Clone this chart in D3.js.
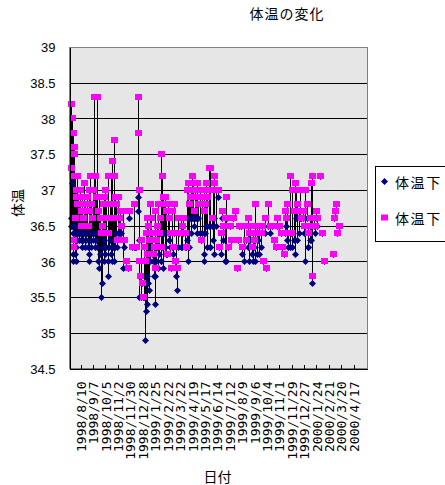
<!DOCTYPE html>
<html>
<head>
<meta charset="utf-8">
<script src="https://cdn.jsdelivr.net/npm/d3@7"></script>
<style>
body { margin: 0; background: #fff; }
svg { display: block; }
</style>
</head>
<body>
<svg id="chart" width="445" height="485"></svg>
<script>
var title = "体温の変化";
var xTitle = "日付";
var yTitle = "体温";
var seriesNames = ["体温下", "体温下"];

var dates = [
  "1998/7/20","1998/7/21","1998/7/22","1998/7/23","1998/7/24","1998/7/25","1998/7/26","1998/7/27","1998/7/28","1998/7/29",
  "1998/7/30","1998/7/31","1998/8/1","1998/8/2","1998/8/3","1998/8/5","1998/8/7","1998/8/9","1998/8/11","1998/8/13",
  "1998/8/15","1998/8/17","1998/8/19","1998/8/21","1998/8/23","1998/8/25","1998/8/27","1998/8/29","1998/8/31","1998/9/2",
  "1998/9/4","1998/9/6","1998/9/8","1998/9/10","1998/9/12","1998/9/14","1998/9/17","1998/9/19","1998/9/21","1998/9/23",
  "1998/9/26","1998/9/28","1998/9/30","1998/10/2","1998/10/4","1998/10/6","1998/10/8","1998/10/11","1998/10/13","1998/10/15",
  "1998/10/17","1998/10/19","1998/10/21","1998/10/23","1998/10/25","1998/10/26","1998/10/28","1998/10/31","1998/11/2","1998/11/4",
  "1998/11/6","1998/11/8","1998/11/11","1998/11/14","1998/11/16","1998/11/21","1998/11/26","1998/11/29","1998/12/5","1998/12/9",
  "1998/12/12","1998/12/15","1998/12/18","1998/12/19","1998/12/20","1998/12/22","1998/12/24","1998/12/26","1998/12/28","1998/12/30",
  "1999/1/1","1999/1/3","1999/1/5","1999/1/7","1999/1/9","1999/1/11","1999/1/13","1999/1/15","1999/1/17","1999/1/19",
  "1999/1/21","1999/1/23","1999/1/25","1999/1/27","1999/1/29","1999/1/31","1999/2/2","1999/2/4","1999/2/6","1999/2/8",
  "1999/2/9","1999/2/11","1999/2/13","1999/2/16","1999/2/18","1999/2/20","1999/2/22","1999/2/24","1999/2/27","1999/3/1",
  "1999/3/3","1999/3/5","1999/3/7","1999/3/9","1999/3/12","1999/3/14","1999/3/16","1999/3/19","1999/3/22","1999/3/25",
  "1999/3/28","1999/3/31","1999/4/3","1999/4/6","1999/4/9","1999/4/11","1999/4/13","1999/4/15","1999/4/17","1999/4/19",
  "1999/4/21","1999/4/24","1999/4/26","1999/4/28","1999/5/1","1999/5/4","1999/5/7","1999/5/10","1999/5/13","1999/5/16",
  "1999/5/17","1999/5/19","1999/5/21","1999/5/24","1999/5/27","1999/5/29","1999/5/31","1999/6/3","1999/6/5","1999/6/7",
  "1999/6/9","1999/6/12","1999/6/17","1999/6/20","1999/6/24","1999/6/26","1999/6/29","1999/7/2","1999/7/5","1999/7/8",
  "1999/7/10","1999/7/14","1999/7/17","1999/7/21","1999/7/26","1999/7/30","1999/8/1","1999/8/4","1999/8/8","1999/8/11",
  "1999/8/14","1999/8/19","1999/8/23","1999/8/26","1999/8/29","1999/9/1","1999/9/4","1999/9/7","1999/9/9","1999/9/12",
  "1999/9/15","1999/9/18","1999/9/21","1999/9/24","1999/9/27","1999/9/30","1999/10/4","1999/10/8","1999/10/12","1999/10/16",
  "1999/10/21","1999/10/25","1999/10/29","1999/11/2","1999/11/6","1999/11/9","1999/11/12","1999/11/15","1999/11/17","1999/11/19",
  "1999/11/22","1999/11/26","1999/11/29","1999/12/2","1999/12/5","1999/12/8","1999/12/10","1999/12/13","1999/12/16","1999/12/19",
  "1999/12/22","1999/12/25","1999/12/28","1999/12/31","2000/1/3","2000/1/5","2000/1/7","2000/1/10","2000/1/13","2000/1/15",
  "2000/1/16","2000/1/19","2000/1/21","2000/1/23","2000/1/27","2000/2/2","2000/2/6","2000/2/11","2000/3/3","2000/3/5",
  "2000/3/7","2000/3/9","2000/3/11","2000/3/15"
];

var low = [
  36.5,36.6,36.5,37.1,36.1,36.4,36.0,36.4,36.5,36.1,
  36.4,36.0,36.2,36.4,36.3,36.4,36.3,36.4,36.3,36.4,
  36.2,36.3,36.4,36.2,36.3,36.4,36.2,36.0,36.1,36.3,
  36.2,36.4,36.3,36.4,36.2,36.3,36.2,36.0,35.9,36.1,
  35.5,35.7,36.2,36.0,36.3,36.1,36.2,35.8,36.0,36.2,
  36.3,36.1,36.0,36.2,36.3,36.0,36.2,36.4,36.2,36.4,
  36.4,36.4,36.4,35.9,36.2,36.0,35.9,36.6,36.2,36.2,
  36.2,36.2,36.9,36.7,36.3,35.5,35.8,35.5,35.7,35.5,
  35.5,34.9,35.3,35.4,35.8,35.7,35.6,36.0,36.2,36.1,
  36.0,35.8,35.4,35.8,36.0,36.2,35.9,36.1,36.4,36.0,
  36.0,36.2,35.9,36.4,36.2,36.1,36.1,36.4,36.3,36.2,
  35.9,36.2,36.1,36.4,36.0,35.8,35.6,36.2,36.4,36.2,
  36.2,36.4,36.2,36.2,36.3,36.0,36.2,36.6,36.4,36.6,
  36.6,36.5,36.6,36.6,36.4,36.6,36.4,36.3,36.4,36.0,
  36.1,36.4,36.5,36.2,36.5,36.2,36.2,36.5,36.3,36.1,
  36.6,36.5,36.9,36.2,36.1,36.6,36.3,36.0,36.0,36.6,
  36.2,36.5,36.3,36.6,36.7,35.9,36.3,36.5,36.5,36.1,
  36.0,36.3,36.2,36.0,36.3,36.1,36.0,36.2,36.0,36.1,
  36.3,36.1,36.2,36.5,36.0,36.4,35.9,36.5,36.4,36.5,
  36.3,36.2,36.5,36.5,36.4,36.2,36.1,36.4,36.5,36.3,
  36.2,36.2,36.4,36.2,36.3,36.1,36.6,36.3,36.4,36.6,
  36.6,36.6,36.4,36.0,36.6,36.2,36.2,36.3,36.3,35.7,
  35.8,36.5,36.4,36.6,36.5,37.2,36.4,36.0,36.1,36.6,
  36.7,36.8,36.4,36.5
];

var high = [
  37.3,38.2,38.0,37.2,36.3,37.8,36.2,37.6,37.5,36.6,
  37.2,36.9,37.0,36.8,37.2,36.9,36.8,37.0,36.7,36.5,
  36.9,36.6,37.1,36.8,36.7,36.9,36.5,36.7,37.0,37.2,
  36.8,36.6,37.0,38.3,37.2,36.9,38.3,36.7,36.9,36.6,
  36.4,36.5,36.8,36.9,36.6,37.0,36.8,36.4,37.2,36.6,
  36.8,37.2,37.4,36.6,37.7,37.2,36.9,36.8,36.3,36.9,
  36.6,36.7,36.5,36.7,36.3,36.0,35.9,36.7,36.2,36.8,
  36.2,36.2,38.3,37.8,37.0,36.0,35.8,36.3,35.7,35.5,
  36.2,36.0,36.4,36.6,36.1,36.5,36.3,36.8,36.6,36.4,
  36.1,36.2,35.9,36.7,36.3,36.5,36.8,36.4,36.6,36.2,
  37.5,37.2,36.9,36.8,36.9,36.7,36.1,36.8,36.6,36.4,
  35.9,36.7,36.2,36.8,36.0,36.4,35.9,36.6,36.4,36.6,
  36.5,36.6,36.4,36.2,37.0,37.1,36.8,36.9,37.0,37.2,
  37.1,36.7,37.0,36.9,37.1,36.8,37.0,36.3,36.9,36.7,
  37.0,36.8,37.1,36.9,37.3,37.0,37.3,36.6,37.0,37.2,
  37.1,37.0,37.0,36.2,36.4,36.7,36.5,36.6,36.9,36.6,
  36.2,36.5,36.3,36.6,36.7,35.9,36.3,36.5,36.5,36.2,
  36.5,36.3,36.6,36.4,36.5,36.2,36.4,36.3,36.8,36.5,
  36.4,36.5,36.4,36.5,36.0,36.6,35.9,36.8,36.5,36.5,
  36.3,36.2,36.6,36.5,36.4,36.2,36.1,36.7,36.6,36.8,
  36.4,37.2,36.4,37.0,36.7,37.1,37.0,36.8,36.7,37.0,
  36.6,36.7,36.5,37.0,36.8,36.4,36.5,36.6,37.1,37.2,
  35.8,36.6,36.5,36.7,36.6,37.2,36.4,36.0,36.1,36.6,
  36.7,36.8,36.4,36.5
];

var xTickLabels = [
  "1998/8/10","1998/9/7","1998/10/5","1998/11/2","1998/11/30","1998/12/28",
  "1999/1/25","1999/2/22","1999/3/22","1999/4/19","1999/5/17","1999/6/14",
  "1999/7/12","1999/8/9","1999/9/6","1999/10/4","1999/11/1","1999/11/29",
  "1999/12/27","2000/1/24","2000/2/21","2000/3/20","2000/4/17"
];
var yTicks = [34.5, 35, 35.5, 36, 36.5, 37, 37.5, 38, 38.5, 39];
var gridValues = [35, 35.5, 36, 36.5, 37, 37.5, 38, 38.5];

var jp = "'Noto Sans CJK JP', sans-serif";
var svg = d3.select("#chart");
var parse = d3.timeParse("%Y/%m/%d");

var plotLeft = 69.5, plotRight = 367, plotTop = 47.5, plotBottom = 368.5;

var x = d3.scaleTime()
    .domain([parse("1998/7/16"), parse("2000/5/17")])
    .range([plotLeft, plotRight]);
var y = d3.scaleLinear()
    .domain([34.5, 39])
    .range([plotBottom + 0.5, plotTop]);

var points = dates.map(function(d, i) {
  return { date: parse(d), low: low[i], high: high[i] };
});

function px(v) { return Math.floor(v) + 0.5; }

// plot area
svg.append("rect")
    .attr("x", plotLeft).attr("y", plotTop)
    .attr("width", plotRight - plotLeft).attr("height", plotBottom - plotTop)
    .attr("fill", "#e6e6e6")
    .attr("stroke", "#808080")
    .attr("shape-rendering", "crispEdges");

svg.append("g").selectAll("line")
    .data(gridValues)
  .enter().append("line")
    .attr("x1", plotLeft).attr("x2", plotRight)
    .attr("y1", function(d) { return px(y(d)); })
    .attr("y2", function(d) { return px(y(d)); })
    .attr("stroke", "#000")
    .attr("shape-rendering", "crispEdges");

// high-low lines
svg.append("g").selectAll("line")
    .data(points.filter(function(d) { return d.high > d.low; }))
  .enter().append("line")
    .attr("x1", function(d) { return px(x(d.date)); })
    .attr("x2", function(d) { return px(x(d.date)); })
    .attr("y1", function(d) { return px(y(d.low)); })
    .attr("y2", function(d) { return px(y(d.high)); })
    .attr("stroke", "#000")
    .attr("shape-rendering", "crispEdges");

function diamond(cx, cy) {
  var r = 3.5;
  return "M" + cx + "," + (cy - r) + "L" + (cx + r) + "," + cy +
         "L" + cx + "," + (cy + r) + "L" + (cx - r) + "," + cy + "Z";
}

svg.append("g").selectAll("path")
    .data(points)
  .enter().append("path")
    .attr("d", function(d) { return diamond(px(x(d.date)), px(y(d.low))); })
    .attr("fill", "#000080");

svg.append("g").selectAll("rect")
    .data(points)
  .enter().append("rect")
    .attr("x", function(d) { return px(x(d.date)) - 3.5; })
    .attr("y", function(d) { return px(y(d.high)) - 3.5; })
    .attr("width", 7).attr("height", 6)
    .attr("fill", "#ff00ff")
    .attr("shape-rendering", "crispEdges");

// axes
var gx = svg.append("g")
    .attr("transform", "translate(0," + plotBottom + ")")
    .call(d3.axisBottom(x)
      .tickValues(xTickLabels.map(parse))
      .tickSize(-4).tickSizeOuter(0)
      .tickFormat(function(d, i) { return xTickLabels[i]; }));
gx.attr("font-family", "'DejaVu Sans Mono', monospace").attr("font-size", 13);
gx.select(".domain").attr("stroke", "#000").attr("shape-rendering", "crispEdges");
gx.selectAll(".tick line").attr("stroke", "#000").attr("shape-rendering", "crispEdges");
gx.selectAll(".tick text")
    .attr("x", 0).attr("y", 0)
    .attr("dy", "0.36em")
    .attr("transform", "translate(0,13) rotate(-90)")
    .attr("text-anchor", "end")
    .attr("fill", "#000");

var gy = svg.append("g")
    .attr("transform", "translate(" + plotLeft + ",0)")
    .call(d3.axisLeft(y)
      .tickValues(yTicks)
      .tickSize(0).tickSizeOuter(0).tickPadding(14)
      .tickFormat(function(d) { return String(d); }));
gy.attr("font-family", "'Liberation Sans', Arial, sans-serif").attr("font-size", 13);
gy.select(".domain").attr("stroke", "#000").attr("shape-rendering", "crispEdges");
gy.selectAll(".tick text").attr("fill", "#000");

// titles
svg.append("text")
    .attr("x", 287).attr("y", 13)
    .attr("text-anchor", "middle").attr("dominant-baseline", "central")
    .style("font-family", jp).style("font-size", "14px").style("letter-spacing", "1px")
    .text(title);

svg.append("text")
    .attr("transform", "translate(17,203) rotate(-90)")
    .attr("text-anchor", "middle").attr("dominant-baseline", "central")
    .style("font-family", jp).style("font-size", "14px")
    .text(yTitle);

svg.append("text")
    .attr("x", 217.5).attr("y", 475.5)
    .attr("text-anchor", "middle").attr("dominant-baseline", "central")
    .style("font-family", jp).style("font-size", "14px")
    .text(xTitle);

// legend
var legend = svg.append("g");
legend.append("rect")
    .attr("x", 375.5).attr("y", 166.5)
    .attr("width", 72).attr("height", 75)
    .attr("fill", "#fff").attr("stroke", "#000")
    .attr("shape-rendering", "crispEdges");
legend.append("path")
    .attr("d", diamond(384.5, 181.5))
    .attr("fill", "#000080");
legend.append("rect")
    .attr("x", 381).attr("y", 214.5)
    .attr("width", 7).attr("height", 6)
    .attr("fill", "#ff00ff");
legend.selectAll("text")
    .data(seriesNames)
  .enter().append("text")
    .attr("x", 395)
    .attr("y", function(d, i) { return i ? 217.5 : 181.5; })
    .attr("dominant-baseline", "central")
    .style("font-family", jp).style("font-size", "14px").style("letter-spacing", "1.6px")
    .text(function(d) { return d; });
</script>
</body>
</html>
